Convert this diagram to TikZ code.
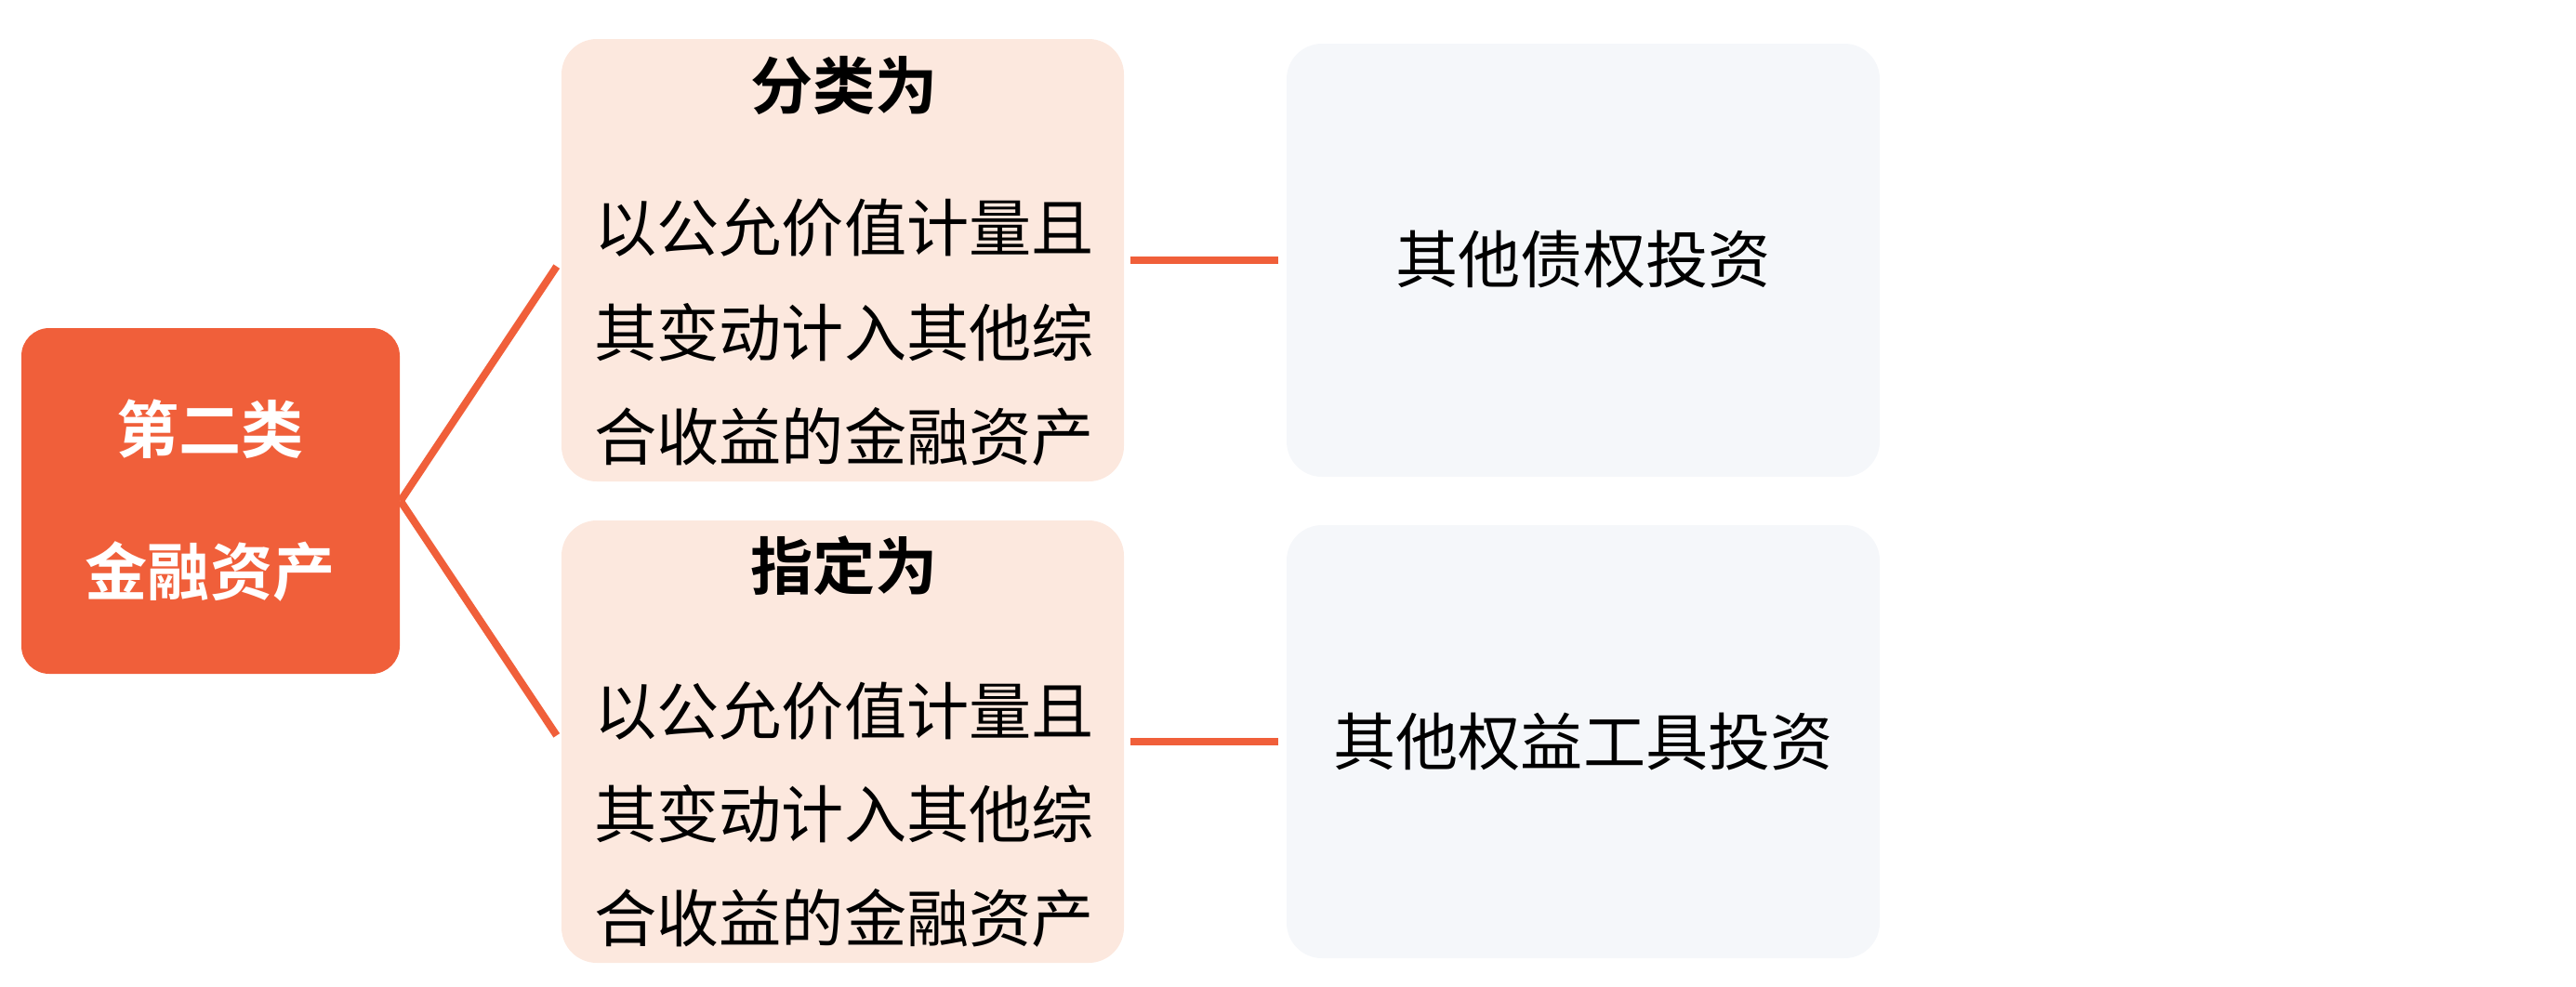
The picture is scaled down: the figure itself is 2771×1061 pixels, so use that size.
\documentclass[tikz,border=0pt]{standalone}
\usepackage{fontspec}
\setmainfont{Noto Sans CJK SC}[BoldFont={Noto Sans CJK SC Bold}]
\definecolor{accent}{HTML}{F05F3A}
\definecolor{peach}{HTML}{FCE8DE}
\definecolor{greybox}{HTML}{F5F7FA}
\tikzset{
  box/.style={draw=none, rounded corners=9.5pt, inner sep=0pt},
  rootbox/.style={box, fill=accent, rounded corners=7.5pt},
  midbox/.style={box, fill=peach},
  leafbox/.style={box, fill=greybox},
  txt/.style={inner sep=0pt, font=\fontsize{16.8}{20}\selectfont},
  bold/.style={txt, font=\fontsize{16.8}{20}\selectfont\bfseries},
  link/.style={draw=accent, line width=2pt},
}
\begin{document}
\begin{tikzpicture}[x=0.25pt, y=-0.25pt]
\useasboundingbox (0,0) rectangle (2771,1061);
% boxes
\node[rootbox, minimum width=101.75pt, minimum height=93pt] (L) at (226.5,539) {};
\node[midbox, minimum width=151.25pt, minimum height=119pt] (MT) at (906.5,280) {};
\node[midbox, minimum width=151.25pt, minimum height=119pt] (MB) at (906.5,798) {};
\node[leafbox, minimum width=159.5pt, minimum height=116.5pt] (RT) at (1703,280) {};
\node[leafbox, minimum width=159.5pt, minimum height=116.5pt] (RB) at (1703,798) {};
% texts
\node[bold, text=white] (l1) at (226,462) {第二类};
\node[bold, text=white] (l2) at (226,615) {金融资产};
\node[bold] (t0) at (908,92) {分类为};
\node[txt] (t1) at (908,245) {以公允价值计量且};
\node[txt] (t2) at (908,358) {其变动计入其他综};
\node[txt] (t3) at (908,470) {合收益的金融资产};
\node[bold] (b0) at (908,609) {指定为};
\node[txt] (b1) at (908,765) {以公允价值计量且};
\node[txt] (b2) at (908,876) {其变动计入其他综};
\node[txt] (b3) at (908,988) {合收益的金融资产};
\node[txt] (r1) at (1703,279) {其他债权投资};
\node[txt] (r2) at (1703,798) {其他权益工具投资};
% connectors
\draw[link, shorten >=2pt] (L.east) -- (MT.west);
\draw[link, shorten >=2pt] (L.east) -- (MB.west);
\draw[link, shorten <=1.5pt, shorten >=2pt] (MT.east) -- (RT.west);
\draw[link, shorten <=1.5pt, shorten >=2pt] (MB.east) -- (RB.west);
\end{tikzpicture}
\end{document}
